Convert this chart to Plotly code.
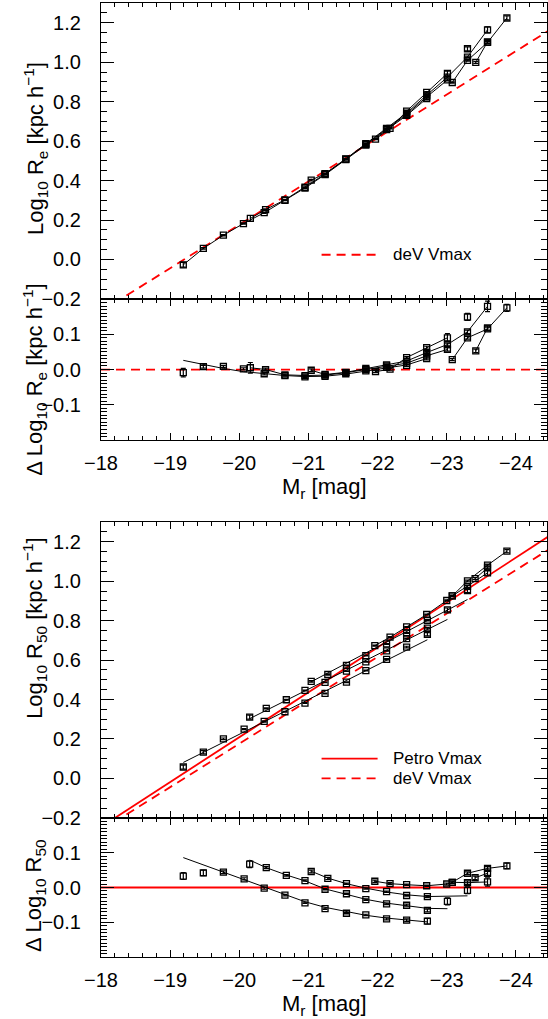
import plotly.graph_objects as go

# ---------------- data ----------------
M_RANGE = [-18.0, -24.45]

# reference relations (red lines): endpoints in M and log10 R
line_M = [-18.0, -24.5]
dev_vmax = [-0.264, 1.166]
petro_vmax = [-0.246, 1.233]
zero_line = [0.0, 0.0]

# ---- upper figure: Log10 Re (de Vaucouleurs) ----
re_s1_M = [-19.19, -19.48, -19.77, -20.06, -20.36, -20.66, -20.95, -21.24, -21.54, -21.83, -22.13, -22.42, -22.71]
re_s1 = [-0.027, 0.056, 0.123, 0.182, 0.237, 0.300, 0.362, 0.430, 0.506, 0.580, 0.658, 0.730, 0.816]
re_s1_d = [-0.009, 0.008, 0.009, 0.002, -0.012, -0.017, -0.021, -0.019, -0.012, -0.004, 0.006, 0.012, 0.031]
re_s1_fit = [0.026, 0.014, 0.003, -0.006, -0.012, -0.017, -0.020, -0.019, -0.013, -0.005, 0.005, 0.013, 0.031]
re_s1_err = [0.012, 0.004, 0.003, 0.003, 0.003, 0.002, 0.002, 0.002, 0.002, 0.002, 0.002, 0.003, 0.004]

re_s2_M = [-20.16, -20.38, -20.66, -20.95, -21.24, -21.54, -21.83, -22.13, -22.42, -22.71, -23.01]
re_s2 = [0.208, 0.253, 0.302, 0.366, 0.433, 0.509, 0.584, 0.662, 0.736, 0.824, 0.910]
re_s2_d = [0.005, 0.000, -0.015, -0.017, -0.016, -0.009, 0.000, 0.010, 0.018, 0.039, 0.057]
re_s2_err = [0.015, 0.004, 0.003, 0.002, 0.002, 0.002, 0.002, 0.002, 0.003, 0.003, 0.005]

re_s3_M = [-21.04, -21.24, -21.54, -21.83, -22.13, -22.42, -22.71, -23.01, -23.30, -23.59]
re_s3 = [0.402, 0.435, 0.510, 0.587, 0.665, 0.742, 0.833, 0.924, 1.026, 1.164]
re_s3_d = [-0.002, -0.014, -0.008, 0.003, 0.013, 0.024, 0.048, 0.071, 0.107, 0.179]
re_s3_err = [0.004, 0.003, 0.002, 0.002, 0.002, 0.003, 0.003, 0.004, 0.005, 0.015]

re_s4_M = [-21.97, -22.18, -22.42, -22.71, -23.01]
re_s4 = [0.610, 0.665, 0.752, 0.847, 0.943]
re_s4_d = [-0.006, 0.001, 0.034, 0.062, 0.090]
re_s4_err = [0.003, 0.003, 0.003, 0.004, 0.012]

re_s5_M = [-23.08, -23.30, -23.59, -23.87]
re_s5 = [0.897, 1.009, 1.100, 1.224]
re_s5_d = [0.028, 0.090, 0.115, 0.175]
re_s5_err = [0.003, 0.004, 0.005, 0.010]

re_s6_M = [-23.42, -23.59]
re_s6 = [0.999, 1.103]
re_s6_d = [0.053, 0.118]
re_s6_err = [0.005, 0.006]

re_s7_M = [-23.30]
re_s7 = [1.068]
re_s7_d = [0.149]
re_s7_err = [0.010]

# ---- lower figure: Log10 R50 (Petrosian) ----
r50_s1_M = [-19.19, -19.48, -19.77, -20.07, -20.36, -20.66, -20.95, -21.24, -21.55, -21.83, -22.13, -22.42, -22.72]
r50_s1 = [0.058, 0.133, 0.201, 0.250, 0.289, 0.338, 0.382, 0.431, 0.488, 0.547, 0.604, 0.666, 0.731]
r50_s1_d = [0.033, 0.042, 0.044, 0.025, -0.002, -0.022, -0.044, -0.061, -0.074, -0.079, -0.090, -0.094, -0.097]
r50_s1_fit = [0.086, 0.065, 0.044, 0.022, 0.000, -0.021, -0.041, -0.057, -0.070, -0.080, -0.088, -0.094, -0.099]
r50_s1_err = [0.010, 0.008, 0.004, 0.003, 0.003, 0.002, 0.002, 0.002, 0.002, 0.002, 0.003, 0.004, 0.008]
r50_s1_line_M = [-19.19, -22.72]
r50_s1_line = [0.081, 0.703]

r50_s2_M = [-20.15, -20.39, -20.68, -20.95, -21.24, -21.55, -21.83, -22.13, -22.42, -22.72, -23.01]
r50_s2 = [0.311, 0.355, 0.399, 0.446, 0.487, 0.544, 0.591, 0.647, 0.709, 0.762, 0.854]
r50_s2_d = [0.067, 0.057, 0.035, 0.020, -0.005, -0.018, -0.035, -0.047, -0.051, -0.066, -0.040]
r50_s2_fit = [0.079, 0.057, 0.036, 0.019, -0.004, -0.020, -0.034, -0.045, -0.053, -0.060, -0.061]
r50_s2_err = [0.010, 0.003, 0.002, 0.002, 0.002, 0.002, 0.002, 0.002, 0.003, 0.004, 0.010]
r50_s2_line_M = [-20.15, -23.01]
r50_s2_line = [0.303, 0.806]

r50_s3_M = [-21.04, -21.28, -21.55, -21.83, -22.13, -22.42, -22.72, -23.30]
r50_s3 = [0.492, 0.527, 0.573, 0.623, 0.682, 0.737, 0.802, 0.952]
r50_s3_d = [0.046, 0.026, 0.011, -0.003, -0.012, -0.023, -0.026, -0.008]
r50_s3_err = [0.004, 0.003, 0.002, 0.002, 0.002, 0.002, 0.003, 0.010]
r50_s3_fit_M = [-21.04, -21.28, -21.55, -21.83, -22.13, -22.42, -22.72, -23.01, -23.30]
r50_s3_fit = [0.047, 0.027, 0.011, -0.002, -0.013, -0.021, -0.026, -0.026, -0.024]
r50_s3_line_M = [-21.04, -23.30]
r50_s3_line = [0.490, 0.907]

r50_s4_M = [-21.96, -22.18, -22.42, -22.71, -23.00, -23.08, -23.30, -23.59, -23.87]
r50_s4 = [0.673, 0.716, 0.768, 0.831, 0.902, 0.925, 1.001, 1.081, 1.152]
r50_s4_d = [0.018, 0.011, 0.008, 0.005, 0.010, 0.015, 0.041, 0.055, 0.062]
r50_s4_err = [0.003, 0.003, 0.002, 0.002, 0.003, 0.003, 0.004, 0.005, 0.008]

r50_s5_M = [-23.08, -23.30, -23.59]
r50_s5 = [0.925, 0.974, 1.042]
r50_s5_d = [0.015, 0.014, 0.016]
r50_s5_err = [0.004, 0.005, 0.012]

r50_s6_M = [-23.41, -23.59]
r50_s6 = [1.013, 1.067]
r50_s6_d = [0.028, 0.041]
r50_s6_err = [0.005, 0.006]

# ---------------- figure ----------------
FONT = "Liberation Sans"
fig = go.Figure()

def pts(M, y, err, xa, ya, mode="lines+markers"):
    fig.add_trace(go.Scatter(
        x=M, y=y, mode=mode, xaxis=xa, yaxis=ya,
        marker=dict(symbol="square-open", size=6, color="black",
                    line=dict(width=1.3, color="black")),
        line=dict(color="black", width=1),
        error_y=dict(type="data", array=err, color="black", thickness=1.2, width=2.5),
        showlegend=False, hoverinfo="skip"))

def line(M, y, xa, ya, color="black", width=1, dash="solid"):
    fig.add_trace(go.Scatter(
        x=M, y=y, mode="lines", xaxis=xa, yaxis=ya,
        line=dict(color=color, width=width, dash=dash),
        showlegend=False, hoverinfo="skip"))

RED = "#ff0000"
DASH = "9px,6px"

# panel 1 : Log10 Re
line(line_M, dev_vmax, "x", "y", RED, 1.8, DASH)
for M, y, e in [(re_s1_M, re_s1, re_s1_err), (re_s2_M, re_s2, re_s2_err),
                (re_s3_M, re_s3, re_s3_err), (re_s4_M, re_s4, re_s4_err),
                (re_s5_M, re_s5, re_s5_err), (re_s6_M, re_s6, re_s6_err)]:
    pts(M, y, e, "x", "y")
pts(re_s7_M, re_s7, re_s7_err, "x", "y", mode="markers")

# panel 2 : residual of Re
line(line_M, zero_line, "x2", "y2", RED, 1.8, DASH)
line(re_s1_M, re_s1_fit, "x2", "y2")
pts(re_s1_M, re_s1_d, re_s1_err, "x2", "y2", mode="markers")
for M, y, e in [(re_s2_M, re_s2_d, re_s2_err), (re_s3_M, re_s3_d, re_s3_err),
                (re_s4_M, re_s4_d, re_s4_err), (re_s5_M, re_s5_d, re_s5_err),
                (re_s6_M, re_s6_d, re_s6_err)]:
    pts(M, y, e, "x2", "y2")
pts(re_s7_M, re_s7_d, re_s7_err, "x2", "y2", mode="markers")

# panel 3 : Log10 R50
line(line_M, petro_vmax, "x3", "y3", RED, 1.8)
line(line_M, dev_vmax, "x3", "y3", RED, 1.8, DASH)
line(r50_s1_line_M, r50_s1_line, "x3", "y3")
line(r50_s2_line_M, r50_s2_line, "x3", "y3")
line(r50_s3_line_M, r50_s3_line, "x3", "y3")
for M, y, e in [(r50_s1_M, r50_s1, r50_s1_err), (r50_s2_M, r50_s2, r50_s2_err),
                (r50_s3_M, r50_s3, r50_s3_err)]:
    pts(M, y, e, "x3", "y3", mode="markers")
for M, y, e in [(r50_s4_M, r50_s4, r50_s4_err), (r50_s5_M, r50_s5, r50_s5_err),
                (r50_s6_M, r50_s6, r50_s6_err)]:
    pts(M, y, e, "x3", "y3")

# panel 4 : residual of R50
line(line_M, zero_line, "x4", "y4", RED, 1.8)
line(r50_s1_M, r50_s1_fit, "x4", "y4")
line(r50_s2_M, r50_s2_fit, "x4", "y4")
line(r50_s3_fit_M, r50_s3_fit, "x4", "y4")
for M, y, e in [(r50_s1_M, r50_s1_d, r50_s1_err), (r50_s2_M, r50_s2_d, r50_s2_err),
                (r50_s3_M, r50_s3_d, r50_s3_err)]:
    pts(M, y, e, "x4", "y4", mode="markers")
for M, y, e in [(r50_s4_M, r50_s4_d, r50_s4_err), (r50_s5_M, r50_s5_d, r50_s5_err),
                (r50_s6_M, r50_s6_d, r50_s6_err)]:
    pts(M, y, e, "x4", "y4")

# legends (line samples)
line([-21.19, -22.0], [0.024, 0.024], "x", "y", RED, 1.8, DASH)
line([-21.19, -22.0], [0.10, 0.10], "x3", "y3", RED, 1.8)
line([-21.19, -22.0], [0.0, 0.0], "x3", "y3", RED, 1.8, DASH)

# ---------------- axes ----------------
TICKFONT = dict(family=FONT, size=20, color="black")

def xax(anchor, labels):
    return dict(range=M_RANGE, anchor=anchor, showline=True, linecolor="black", linewidth=1.2,
                mirror="allticks", ticks="inside", ticklen=7, tickwidth=1, tickcolor="black",
                tick0=0, dtick=1, showticklabels=labels, ticklabelstandoff=5, tickfont=TICKFONT,
                minor=dict(dtick=0.2, ticklen=3.5, ticks="inside", tickcolor="black", tickwidth=1),
                showgrid=False, zeroline=False, fixedrange=True)

def yax(anchor, dom, rng, dtick, mdtick):
    return dict(domain=dom, range=rng, anchor=anchor, showline=True, linecolor="black", linewidth=1.2,
                mirror="allticks", ticks="inside", ticklen=13, tickwidth=1, tickcolor="black",
                tick0=0, dtick=dtick, tickformat=".1f", ticklabelstandoff=15, tickfont=TICKFONT,
                minor=dict(dtick=mdtick, ticklen=6, ticks="inside", tickcolor="black", tickwidth=1),
                showgrid=False, zeroline=False, fixedrange=True)

fig.update_layout(
    width=548, height=1019,
    margin=dict(l=101, r=1, t=3, b=62),
    paper_bgcolor="white", plot_bgcolor="white",
    font=dict(family=FONT, size=20, color="black"),
    showlegend=False,
    xaxis=xax("y", False),
    xaxis2=xax("y2", True),
    xaxis3=xax("y3", False),
    xaxis4=xax("y4", True),
    yaxis=yax("x", [0.6897, 1.0], [-0.2005, 1.3], 0.2, 0.05),
    yaxis2=yax("x2", [0.5419, 0.6897], [-0.1999, 0.1999], 0.1, 0.01),
    yaxis3=yax("x3", [0.1457, 0.4560], [-0.2005, 1.3], 0.2, 0.05),
    yaxis4=yax("x4", [0.0, 0.1457], [-0.1999, 0.1999], 0.1, 0.01),
)

ann = [
    dict(text="Log<sub>10</sub> R<sub>e</sub> [kpc h<sup>−1</sup>]", x=-0.1480, y=0.848, textangle=-90),
    dict(text="Δ Log<sub>10</sub> R<sub>e</sub> [kpc h<sup>−1</sup>]", x=-0.1480, y=0.606, textangle=-90),
    dict(text="Log<sub>10</sub> R<sub>50</sub> [kpc h<sup>−1</sup>]", x=-0.1480, y=0.345, textangle=-90),
    dict(text="Δ Log<sub>10</sub> R<sub>50</sub>", x=-0.1480, y=0.065, textangle=-90),
    dict(text="M<sub>r</sub> [mag]", x=0.5, y=0.4916, textangle=0),
    dict(text="M<sub>r</sub> [mag]", x=0.5, y=-0.0503, textangle=0),
]
annotations = []
for a in ann:
    annotations.append(dict(xref="paper", yref="paper", xanchor="center", yanchor="middle",
                            showarrow=False, font=dict(family=FONT, size=22, color="black"), **a))
for txt, xr, yr, yv in [("deV Vmax", "x", "y", 0.024), ("Petro Vmax", "x3", "y3", 0.10),
                        ("deV Vmax", "x3", "y3", 0.0)]:
    annotations.append(dict(text=txt, xref=xr, yref=yr, x=-22.2, y=yv, xanchor="left",
                            yanchor="middle", showarrow=False,
                            font=dict(family=FONT, size=17, color="black")))
fig.update_layout(annotations=annotations)

fig.write_html("out.html")
